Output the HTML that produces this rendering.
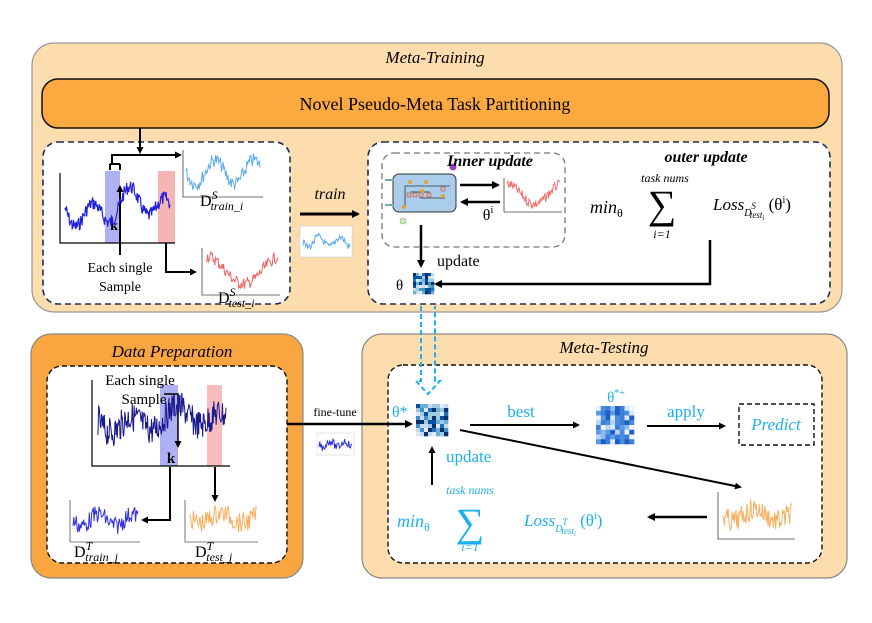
<!DOCTYPE html>
<html><head><meta charset="utf-8"><style>
html,body{margin:0;padding:0;background:#fff}
svg{display:block}
text{font-family:"Liberation Serif",serif}
.b{fill:#1ab0ef}
</style></head><body>
<svg id="s" width="872" height="623" viewBox="0 0 872 623" xmlns="http://www.w3.org/2000/svg">
<defs>
<marker id="ah" markerWidth="8" markerHeight="8" refX="6" refY="4" orient="auto" markerUnits="userSpaceOnUse"><path d="M0,0 L8,4 L0,8 z" fill="#000"/></marker>
<marker id="ahs" markerWidth="7" markerHeight="7" refX="5" refY="3.5" orient="auto" markerUnits="userSpaceOnUse"><path d="M0,0 L7,3.5 L0,7 z" fill="#000"/></marker>
</defs>
<!-- Meta-Training -->
<rect x="32" y="43" width="810" height="269" rx="22" fill="#fddcae" stroke="#999" stroke-width="1.2"/>
<text x="435" y="63" font-size="17" font-style="italic" text-anchor="middle">Meta-Training</text>
<rect x="42" y="79" width="787" height="49" rx="16" fill="#fca940" stroke="#111" stroke-width="1.5"/>
<text x="435" y="110" font-size="18" text-anchor="middle">Novel Pseudo-Meta Task Partitioning</text>
<rect x="43" y="142" width="247" height="162" rx="15" fill="#fff" stroke="#1c2d55" stroke-width="1.6" stroke-dasharray="6,4"/>
<rect x="368" y="142" width="462" height="162" rx="15" fill="#fff" stroke="#1c2d55" stroke-width="1.6" stroke-dasharray="6,4"/>
<rect x="382" y="153" width="183" height="94" rx="12" fill="#fff" stroke="#777" stroke-width="1.3" stroke-dasharray="6,4"/>

<!-- left box content -->
<rect x="105" y="171" width="15" height="72" fill="#aeb0f4"/>
<rect x="158" y="171" width="17" height="72" fill="#f7b4b4"/>
<g id="g1"></g>
<path d="M60,173 V243 H175" fill="none" stroke="#000" stroke-width="1.2"/>
<path d="M140,128 V152" stroke="#000" stroke-width="2" marker-end="url(#ahs)"/>
<path d="M110,170 V164 M120,170 V164 M110,164 H120 M112,164 V155 H180" fill="none" stroke="#000" stroke-width="2" marker-end="url(#ahs)"/>
<path d="M120,255 V187" stroke="#000" stroke-width="2" marker-end="url(#ahs)"/>
<text x="114" y="230" font-size="14" font-weight="bold" text-anchor="middle">k</text>
<text x="120" y="272" font-size="14" text-anchor="middle">Each single</text>
<text x="120" y="291" font-size="14" text-anchor="middle">Sample</text>
<path d="M166,243 V272 H195" fill="none" stroke="#000" stroke-width="2" marker-end="url(#ahs)"/>
<path d="M183,150 V197 H263" fill="none" stroke="#444" stroke-width="0.8"/>
<path d="M202,248 V295 H280" fill="none" stroke="#444" stroke-width="0.8"/>
<text x="200" y="206" font-size="16">D<tspan font-size="12" font-style="italic" dy="-7">S</tspan><tspan font-size="12" font-style="italic" dx="-7" dy="11">train_i</tspan></text>
<text x="218" y="303" font-size="16">D<tspan font-size="12" font-style="italic" dy="-7">S</tspan><tspan font-size="12" font-style="italic" dx="-7" dy="11">test_i</tspan></text>

<text x="330" y="199" font-size="16" font-style="italic" text-anchor="middle">train</text>
<path d="M300,214 H358" stroke="#000" stroke-width="3" marker-end="url(#ah)"/>
<rect x="300" y="226" width="52" height="31" fill="#fff" stroke="#ccc" stroke-width="0.5"/>

<!-- LSTM cell -->
<rect x="393" y="174" width="63" height="38" rx="6" fill="#a9cdea" stroke="#333" stroke-width="1"/>
<path d="M385,180 H394 M385,205 H394" stroke="#7aa" stroke-width="2"/>
<path d="M405,206 V186 H450 M410,192 H430 M420,198 H445" fill="none" stroke="#333" stroke-width="0.8"/>
<g fill="#e8a8a8" stroke="#955" stroke-width="0.5"><rect x="407" y="193" width="4" height="4"/><rect x="413" y="193" width="4" height="4"/><rect x="419" y="193" width="4" height="4"/><rect x="427" y="193" width="4" height="4"/><rect x="441" y="187" width="4" height="4"/></g>
<g fill="#e5a23a"><circle cx="410" cy="182" r="2"/><circle cx="426" cy="182" r="2"/><circle cx="422" cy="191" r="2"/><circle cx="443" cy="196" r="2"/><circle cx="404" cy="207" r="2"/></g>
<circle cx="453" cy="167" r="3.5" fill="#a040c0"/>
<circle cx="403" cy="221" r="3" fill="#cfe8c0" stroke="#7a7" stroke-width="0.6"/>
<text x="490" y="166" font-size="16" font-weight="bold" font-style="italic" text-anchor="middle">Inner update</text>
<path d="M460,185 H498" stroke="#000" stroke-width="2.5" marker-end="url(#ah)"/>
<path d="M500,202 H462" stroke="#000" stroke-width="2.5" marker-end="url(#ah)"/>
<text x="488" y="220" font-size="16" text-anchor="middle">θ<tspan font-size="10" dy="-7">i</tspan></text>
<path d="M504,178 V212 H562" fill="none" stroke="#444" stroke-width="0.8"/>
<path d="M421,225 V266" stroke="#000" stroke-width="2.5" marker-end="url(#ah)"/>
<text x="437" y="266" font-size="16">update</text>
<text x="396" y="290" font-size="15">θ</text>
<g id="h1"></g>
<path d="M710,240 V284 H436" fill="none" stroke="#000" stroke-width="2.5" marker-end="url(#ah)"/>
<text x="706" y="162" font-size="16" font-weight="bold" font-style="italic" text-anchor="middle">outer update</text>
<text x="665" y="182" font-size="12" font-style="italic" text-anchor="middle">task nums</text>
<text x="662" y="218" font-size="40" text-anchor="middle" font-family="DejaVu Sans">∑</text>
<text x="662" y="238" font-size="12" font-style="italic" text-anchor="middle">i=1</text>
<text x="590" y="213" font-size="18" font-style="italic">min<tspan font-size="12" font-style="normal" dy="4">θ</tspan></text>
<text x="713" y="210" font-size="17" font-style="italic">Loss<tspan font-size="10" dy="6">D</tspan><tspan font-size="9" dy="-7">S</tspan><tspan font-size="9" dx="-6" dy="9">test</tspan><tspan font-size="7" dy="2">i</tspan><tspan font-size="17" font-style="normal" dy="-10"> (θ</tspan><tspan font-size="10" font-style="normal" dy="-7">i</tspan><tspan font-size="17" font-style="normal" dy="7">)</tspan></text>

<!-- Data Preparation -->
<rect x="31" y="334" width="272" height="244" rx="20" fill="#f9a640" stroke="#888" stroke-width="1.2"/>
<text x="172" y="357" font-size="17" font-style="italic" text-anchor="middle">Data Preparation</text>
<rect x="47" y="366" width="240" height="197" rx="15" fill="#fff" stroke="#111" stroke-width="1.4" stroke-dasharray="5,3"/>
<rect x="160" y="385" width="18" height="81" fill="#aeb0f4"/>
<rect x="207" y="385" width="15" height="81" fill="#f7bcbc"/>
<g id="g2"></g>
<path d="M92,380 V466 H230" fill="none" stroke="#000" stroke-width="1.2"/>
<text x="140" y="385" font-size="15" text-anchor="middle">Each single</text>
<text x="144" y="404" font-size="15" text-anchor="middle">Sample</text>
<path d="M164,394 H178 V446" fill="none" stroke="#000" stroke-width="1.5" marker-end="url(#ahs)"/>
<text x="171" y="463" font-size="15" font-weight="bold" text-anchor="middle">k</text>
<path d="M170,467 V520 H143" fill="none" stroke="#000" stroke-width="2" marker-end="url(#ahs)"/>
<path d="M215,467 V500" fill="none" stroke="#000" stroke-width="2" marker-end="url(#ahs)"/>
<path d="M70,500 V542 H140" fill="none" stroke="#555" stroke-width="0.8"/>
<path d="M185,500 V542 H258" fill="none" stroke="#555" stroke-width="0.8"/>
<text x="74" y="557" font-size="16">D<tspan font-size="12" font-style="italic" dy="-7">T</tspan><tspan font-size="12" font-style="italic" dx="-7" dy="11">train_j</tspan></text>
<text x="195" y="557" font-size="16">D<tspan font-size="12" font-style="italic" dy="-7">T</tspan><tspan font-size="12" font-style="italic" dx="-7" dy="11">test_j</tspan></text>

<!-- Meta-Testing -->
<rect x="362" y="334" width="485" height="244" rx="20" fill="#fddcae" stroke="#888" stroke-width="1.2"/>
<text x="604" y="353" font-size="17" font-style="italic" text-anchor="middle">Meta-Testing</text>
<rect x="388" y="365" width="434" height="198" rx="15" fill="#fff" stroke="#111" stroke-width="1.4" stroke-dasharray="5,3"/>

<text x="335" y="416" font-size="12" text-anchor="middle">fine-tune</text>
<path d="M287,424 H411" stroke="#000" stroke-width="2.5" marker-end="url(#ah)"/>
<rect x="317" y="433" width="37" height="22" fill="#fff" stroke="#ccc" stroke-width="0.5"/>

<!-- blue dashed double arrow -->
<path d="M421,306 V381 H416 L428,394 L440,381 H435 V306" fill="none" stroke="#1ab0ef" stroke-width="2" stroke-dasharray="5,3"/>

<text x="392" y="417" font-size="16" class="b">θ*</text>
<g id="h2"></g>
<text x="521" y="417" font-size="17" class="b" text-anchor="middle">best</text>
<path d="M470,425 H578" stroke="#000" stroke-width="2" marker-end="url(#ahs)"/>
<text x="616" y="402" font-size="15" class="b" text-anchor="middle">θ<tspan font-size="10" dy="-6">*+</tspan></text>
<g id="h3"></g>
<text x="686" y="417" font-size="17" class="b" text-anchor="middle">apply</text>
<path d="M647,426 H724" stroke="#000" stroke-width="2" marker-end="url(#ahs)"/>
<rect x="739" y="404" width="75" height="41" fill="#fff" stroke="#111" stroke-width="1.4" stroke-dasharray="5,3"/>
<text x="776" y="430" font-size="17" font-style="italic" class="b" text-anchor="middle">Predict</text>
<text x="446" y="462" font-size="17" class="b">update</text>
<path d="M432,485 V448" stroke="#000" stroke-width="2" marker-end="url(#ahs)"/>
<path d="M460,430 L740,487" stroke="#000" stroke-width="2" marker-end="url(#ahs)"/>
<path d="M718,492 V539 H795" fill="none" stroke="#444" stroke-width="0.8"/>
<path d="M707,517 H649" stroke="#000" stroke-width="2.5" marker-end="url(#ah)"/>
<text x="470" y="494" font-size="12" font-style="italic" class="b" text-anchor="middle">task nums</text>
<text x="470" y="536" font-size="40" class="b" text-anchor="middle" font-family="DejaVu Sans">∑</text>
<text x="470" y="551" font-size="12" font-style="italic" class="b" text-anchor="middle">i=1</text>
<text x="397" y="527" font-size="18" font-style="italic" class="b">min<tspan font-size="12" font-style="normal" dy="4">θ</tspan></text>
<text x="524" y="526" font-size="17" font-style="italic" class="b">Loss<tspan font-size="10" dy="6">D</tspan><tspan font-size="9" dy="-7">T</tspan><tspan font-size="9" dx="-6" dy="9">test</tspan><tspan font-size="7" dy="2">i</tspan><tspan font-size="17" font-style="normal" dy="-10"> (θ</tspan><tspan font-size="10" font-style="normal" dy="-7">i</tspan><tspan font-size="17" font-style="normal" dy="7">)</tspan></text>
</svg>
<script>
var NS="http://www.w3.org/2000/svg",seed=7;
function r(){seed=(seed*9301+49297)%233280;return seed/233280;}
function series(x0,x1,ymid,amp,noise,n,col,w,shape){
  var p=[];for(var i=0;i<=n;i++){var t=i/n;var x=x0+(x1-x0)*t;
  var y=ymid+amp*shape(t)+(r()-0.5)*noise;p.push(x.toFixed(1)+","+y.toFixed(1));}
  var e=document.createElementNS(NS,"polyline");e.setAttribute("points",p.join(" "));
  e.setAttribute("fill","none");e.setAttribute("stroke",col);e.setAttribute("stroke-width",w);
  document.getElementById("s").appendChild(e);}
function heat(x,y,s,n,light){var g=document.getElementById("s");var c=s/n;
  var cols=light?["#1f5fc0","#3a7fd8","#5b9be6","#8bb8f0","#b8d4f6","#dbe8fa","#eef4fd","#4a8de0"]:["#08306b","#08519c","#2171b5","#4292c6","#6baed6","#9ecae1","#c6dbef","#deebf7"];
  for(var i=0;i<n;i++)for(var j=0;j<n;j++){var e=document.createElementNS(NS,"rect");
  e.setAttribute("x",x+i*c);e.setAttribute("y",y+j*c);e.setAttribute("width",c+0.3);e.setAttribute("height",c+0.3);
  e.setAttribute("fill",cols[Math.floor(r()*8)]);g.appendChild(e);}}
var wave=function(t){return Math.sin(t*18)*0.6+Math.sin(t*7)*0.4;};
series(65,170,208,22,14,160,"#2020e0",1.2,wave);
series(186,260,172,12,14,90,"#5aaaf0",1,function(t){return Math.sin(t*12);});
series(206,278,270,14,12,90,"#f06060",1,function(t){return -Math.cos(t*6);});
series(303,350,242,5,8,50,"#5aaaf0",1,function(t){return Math.sin(t*14);});
series(507,560,194,10,10,70,"#f07070",1,function(t){return -Math.cos(t*6);});
series(98,226,420,15,30,220,"#1a1a90",1,wave);
series(73,138,520,6,18,80,"#3030e0",1,function(t){return Math.sin(t*12);});
series(190,256,518,5,20,80,"#f8b060",1,function(t){return Math.sin(t*10);});
series(319,352,444,3,8,40,"#3030e0",1,function(t){return Math.sin(t*14);});
series(722,792,515,6,22,90,"#f8b060",1,function(t){return Math.sin(t*10);});
heat(413,273,21,7);heat(416,404,32,8);heat(596,406,38,8,true);
</script>
</body></html>
